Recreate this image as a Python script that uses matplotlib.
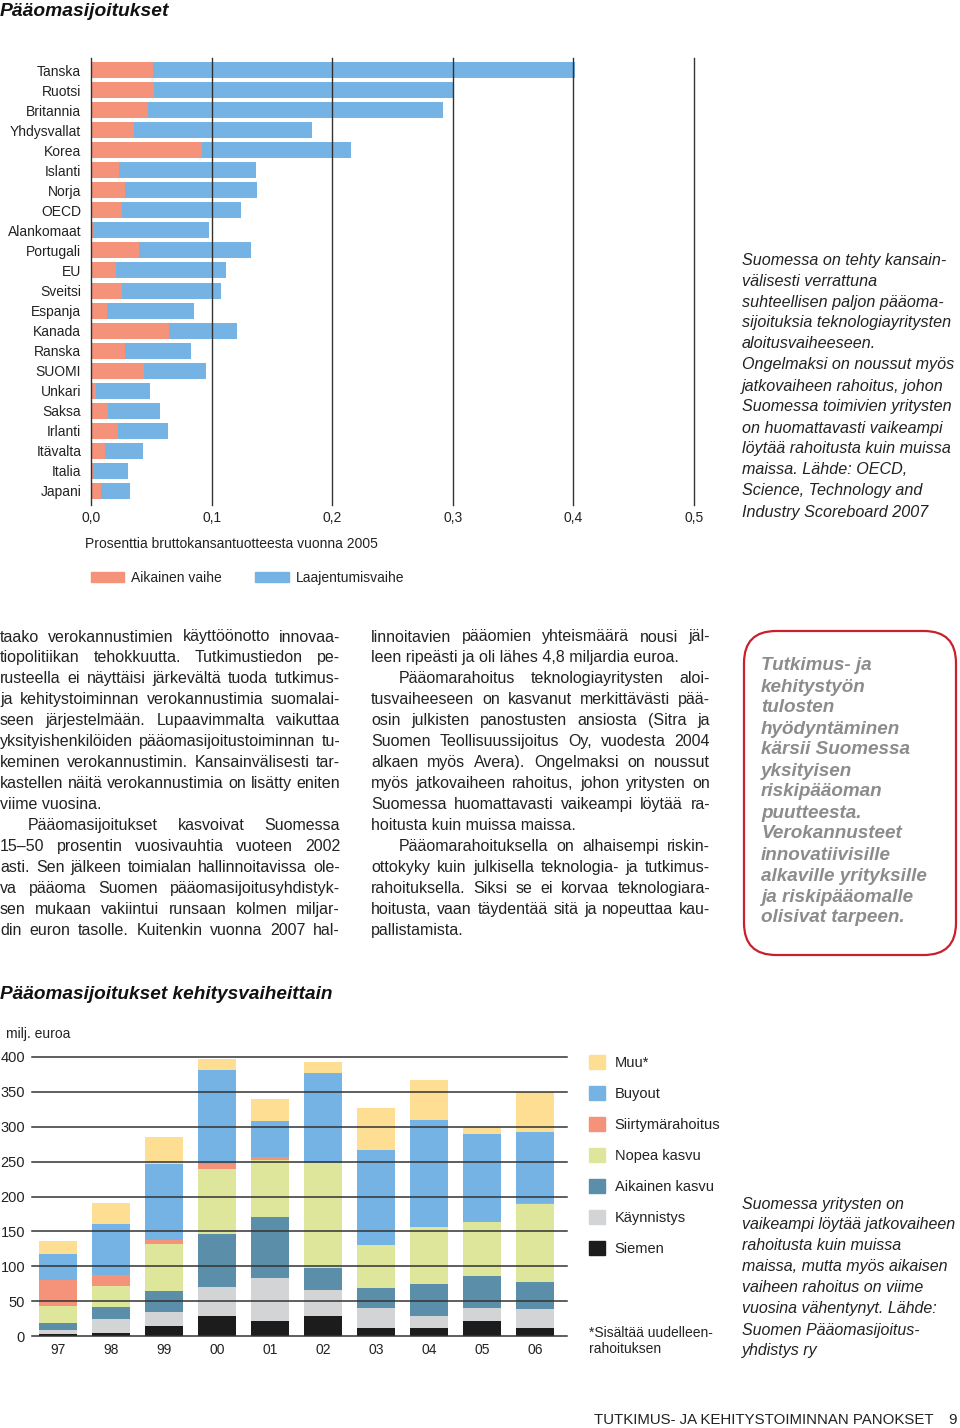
import matplotlib
matplotlib.use('Agg')
import matplotlib.pyplot as plt
from matplotlib.patches import FancyBboxPatch, Patch
import numpy as np

plt.rcParams['font.family'] = ['Liberation Sans', 'DejaVu Sans']

W, H = 960, 1428

# ---------------- data: top chart ----------------
countries = ["Tanska", "Ruotsi", "Britannia", "Yhdysvallat", "Korea", "Islanti", "Norja",
             "OECD", "Alankomaat", "Portugali", "EU", "Sveitsi", "Espanja", "Kanada",
             "Ranska", "SUOMI", "Unkari", "Saksa", "Irlanti", "Itävalta", "Italia", "Japani"]
early_stage = [0.051, 0.052, 0.047, 0.036, 0.092, 0.023, 0.028, 0.026, 0.002, 0.040, 0.021,
               0.026, 0.013, 0.065, 0.028, 0.044, 0.004, 0.014, 0.022, 0.012, 0.002, 0.008]
expansion_stage = [0.350, 0.248, 0.245, 0.147, 0.124, 0.114, 0.110, 0.098, 0.096, 0.093, 0.091,
                   0.082, 0.072, 0.056, 0.055, 0.051, 0.045, 0.043, 0.042, 0.031, 0.029, 0.024]
top_ticks = [0.0, 0.1, 0.2, 0.3, 0.4, 0.5]
top_tick_labels = ["0,0", "0,1", "0,2", "0,3", "0,4", "0,5"]

# ---------------- data: bottom chart ----------------
years = ["97", "98", "99", "00", "01", "02", "03", "04", "05", "06"]
siemen = [3, 4, 15, 28, 22, 29, 11, 12, 22, 12]
kaynnistys = [5, 21, 19, 42, 61, 37, 28.5, 16, 17.5, 26]
aikainen_kasvu = [11, 17, 31, 76, 88, 32, 29.5, 47, 46.5, 40]
nopea_kasvu = [24, 30, 67, 93, 81, 150, 61, 81, 77, 111.5]
siirtymarahoitus = [38, 15, 6, 8, 4, 0.3, 1, 0.5, 1, 1]
buyout = [37, 73, 108, 135, 52, 129, 136, 153, 125, 102]
muu = [18, 31, 39, 15, 32, 15, 60, 57, 10, 58]
bottom_ticks = [0, 50, 100, 150, 200, 250, 300, 350, 400]

ORANGE = '#F4937A'
BLUE = '#74B3E3'
C_MUU = '#FDDE93'
C_SIIRT = '#F4937A'
C_NOPEA = '#DEE69B'
C_AIK = '#5B8EA9'
C_KAYN = '#D3D4D6'
C_SIEM = '#1D1C1C'
GRID = '#333333'
TXT = '#222222'

fig = plt.figure(figsize=(W / 100, H / 100), dpi=100)
renderer = fig.canvas.get_renderer()


def add_ax(x0, y0, x1, y1):
    return fig.add_axes([x0 / W, 1 - y1 / H, (x1 - x0) / W, (y1 - y0) / H])


def T(x, y, s, **kw):
    kw.setdefault('va', 'center')
    kw.setdefault('ha', 'left')
    kw.setdefault('color', TXT)
    return fig.text(x / W, 1 - y / H, s, **kw)


# ---------------- titles ----------------
T(0, 16, "Pääomasijoitukset", fontsize=13.9, fontweight='bold', style='italic',
  color='#111111', va='baseline')
T(0, 999, "Pääomasijoitukset kehitysvaiheittain", fontsize=13.7, fontweight='bold',
  style='italic', color='#111111', va='baseline')

# ---------------- top chart ----------------
ax1 = add_ax(91, 58, 694, 505)
n = len(countries)
ypos = np.arange(n)
ax1.barh(ypos, early_stage, height=0.8, color=ORANGE, zorder=2)
ax1.barh(ypos, expansion_stage, left=early_stage, height=0.8, color=BLUE, zorder=2)
ax1.set_xlim(0, 0.5)
ax1.set_ylim(21.7, -0.6)
for t in top_ticks:
    ax1.axvline(t, color=GRID, lw=1.0, zorder=3, clip_on=False)
for s in ax1.spines.values():
    s.set_visible(False)
ax1.set_yticks(ypos)
ax1.set_yticklabels(countries, fontsize=10, color=TXT)
ax1.set_xticks(top_ticks)
ax1.set_xticklabels(top_tick_labels, fontsize=10, color=TXT)
ax1.tick_params(axis='y', length=0, pad=7)
ax1.tick_params(axis='x', length=0, pad=4)
ax1.set_facecolor('none')

T(85, 544, "Prosenttia bruttokansantuotteesta vuonna 2005", fontsize=10)

leg1 = fig.legend(handles=[Patch(color=ORANGE), Patch(color=BLUE)],
                  labels=["Aikainen vaihe", "Laajentumisvaihe"],
                  loc='center left', bbox_to_anchor=(91 / W, 1 - 578 / H), ncol=2,
                  frameon=False, fontsize=10, handlelength=2.4, handleheight=0.8,
                  handletextpad=0.5, columnspacing=2.4, borderpad=0, borderaxespad=0)
for t in leg1.get_texts():
    t.set_color(TXT)

top_right_lines = [
    "Suomessa on tehty kansain-",
    "välisesti verrattuna",
    "suhteellisen paljon pääoma-",
    "sijoituksia teknologiayritysten",
    "aloitusvaiheeseen.",
    "Ongelmaksi on noussut myös",
    "jatkovaiheen rahoitus, johon",
    "Suomessa toimivien yritysten",
    "on huomattavasti vaikeampi",
    "löytää rahoitusta kuin muissa",
    "maissa. Lähde: OECD,",
    "Science, Technology and",
    "Industry Scoreboard 2007",
]
for i, line in enumerate(top_right_lines):
    T(742, 260 + 21 * i, line, fontsize=11.6, style='italic')

# ---------------- body text (justified) ----------------
BODY_FS = 11.5


def word_width(w, **kw):
    t = fig.text(0, 0, w, **kw)
    wd = t.get_window_extent(renderer).width
    t.remove()
    return wd


def justified(x0, width, y, line, last=False, indent=0):
    kw = dict(fontsize=BODY_FS)
    words = line.split()
    if last or len(words) == 1:
        T(x0 + indent, y, line, **kw)
        return
    widths = [word_width(w, **kw) for w in words]
    gap = (width - indent - sum(widths)) / (len(words) - 1)
    x = x0 + indent
    for w, wd in zip(words, widths):
        T(x, y, w, **kw)
        x += wd + gap


col1 = [
    ("taako verokannustimien käyttöönotto innovaa-", 0, False),
    ("tiopolitiikan tehokkuutta. Tutkimustiedon pe-", 0, False),
    ("rusteella ei näyttäisi järkevältä tuoda tutkimus-", 0, False),
    ("ja kehitystoiminnan verokannustimia suomalai-", 0, False),
    ("seen järjestelmään. Lupaavimmalta vaikuttaa", 0, False),
    ("yksityishenkilöiden pääomasijoitustoiminnan tu-", 0, False),
    ("keminen verokannustimin. Kansainvälisesti tar-", 0, False),
    ("kastellen näitä verokannustimia on lisätty eniten", 0, False),
    ("viime vuosina.", 0, True),
    ("Pääomasijoitukset kasvoivat Suomessa", 28, False),
    ("15–50 prosentin vuosivauhtia vuoteen 2002", 0, False),
    ("asti. Sen jälkeen toimialan hallinnoitavissa ole-", 0, False),
    ("va pääoma Suomen pääomasijoitusyhdistyk-", 0, False),
    ("sen mukaan vakiintui runsaan kolmen miljar-", 0, False),
    ("din euron tasolle. Kuitenkin vuonna 2007 hal-", 0, False),
]
col2 = [
    ("linnoitavien pääomien yhteismäärä nousi jäl-", 0, False),
    ("leen ripeästi ja oli lähes 4,8 miljardia euroa.", 0, True),
    ("Pääomarahoitus teknologiayritysten aloi-", 28, False),
    ("tusvaiheeseen on kasvanut merkittävästi pää-", 0, False),
    ("osin julkisten panostusten ansiosta (Sitra ja", 0, False),
    ("Suomen Teollisuussijoitus Oy, vuodesta 2004", 0, False),
    ("alkaen myös Avera). Ongelmaksi on noussut", 0, False),
    ("myös jatkovaiheen rahoitus, johon yritysten on", 0, False),
    ("Suomessa huomattavasti vaikeampi löytää ra-", 0, False),
    ("hoitusta kuin muissa maissa.", 0, True),
    ("Pääomarahoituksella on alhaisempi riskin-", 28, False),
    ("ottokyky kuin julkisella teknologia- ja tutkimus-", 0, False),
    ("rahoituksella. Siksi se ei korvaa teknologiara-", 0, False),
    ("hoitusta, vaan täydentää sitä ja nopeuttaa kau-", 0, False),
    ("pallistamista.", 0, True),
]
for i, (line, ind, last) in enumerate(col1):
    justified(0, 340, 637 + 20.93 * i, line, last=last, indent=ind)
for i, (line, ind, last) in enumerate(col2):
    justified(371, 339, 637 + 20.93 * i, line, last=last, indent=ind)

# ---------------- red box ----------------
box = FancyBboxPatch((744 / 100, (H - 955) / 100), 2.12, 3.24,
                     boxstyle="round,pad=0,rounding_size=0.32",
                     transform=fig.dpi_scale_trans, facecolor='none',
                     edgecolor='#C9202E', lw=1.6)
fig.patches.append(box)
box_lines = [
    "Tutkimus- ja",
    "kehitystyön",
    "tulosten",
    "hyödyntäminen",
    "kärsii Suomessa",
    "yksityisen",
    "riskipääoman",
    "puutteesta.",
    "Verokannusteet",
    "innovatiivisille",
    "alkaville yrityksille",
    "ja riskipääomalle",
    "olisivat tarpeen.",
]
for i, line in enumerate(box_lines):
    T(761, 666 + 21 * i, line, fontsize=13.6, fontweight='bold', style='italic',
      color='#8C8C8C')

# ---------------- bottom chart ----------------
T(6, 1034, "milj. euroa", fontsize=10)
ax2 = add_ax(32, 1057, 567, 1336)
x = np.arange(len(years))
series = [
    (siemen, C_SIEM, "Siemen"),
    (kaynnistys, C_KAYN, "Käynnistys"),
    (aikainen_kasvu, C_AIK, "Aikainen kasvu"),
    (nopea_kasvu, C_NOPEA, "Nopea kasvu"),
    (siirtymarahoitus, C_SIIRT, "Siirtymärahoitus"),
    (buyout, BLUE, "Buyout"),
    (muu, C_MUU, "Muu*"),
]
bottom = np.zeros(len(years))
handles = []
for vals, col, lab in series:
    ax2.bar(x, vals, bottom=bottom, width=0.72, color=col, zorder=2, linewidth=0)
    bottom = bottom + np.array(vals, dtype=float)
    handles.append((Patch(color=col), lab))
ax2.set_xlim(-0.49, 9.6)
ax2.set_ylim(0, 400)
for v in bottom_ticks:
    ax2.axhline(v, color=GRID, lw=1.1, zorder=3, clip_on=False)
for s in ax2.spines.values():
    s.set_visible(False)
ax2.set_yticks(bottom_ticks)
ax2.set_yticklabels([str(v) for v in bottom_ticks], fontsize=10.5, color=TXT)
ax2.set_xticks(x)
ax2.set_xticklabels(years, fontsize=10, color=TXT)
ax2.tick_params(axis='y', length=0, pad=5)
ax2.tick_params(axis='x', length=0, pad=5)
ax2.set_facecolor('none')

handles = handles[::-1]
leg2 = fig.legend(handles=[h for h, _ in handles], labels=[l for _, l in handles],
                  loc='upper left', bbox_to_anchor=(589 / W, 1 - 1055 / H),
                  frameon=False, fontsize=10.5, handlelength=1.1, handleheight=1.1,
                  handletextpad=0.65, labelspacing=1.1, borderpad=0, borderaxespad=0)
for t in leg2.get_texts():
    t.set_color(TXT)

T(589, 1333, "*Sisältää uudelleen-", fontsize=10)
T(589, 1349, "rahoituksen", fontsize=10)

bottom_right_lines = [
    "Suomessa yritysten on",
    "vaikeampi löytää jatkovaiheen",
    "rahoitusta kuin muissa",
    "maissa, mutta myös aikaisen",
    "vaiheen rahoitus on viime",
    "vuosina vähentynyt. Lähde:",
    "Suomen Pääomasijoitus-",
    "yhdistys ry",
]
for i, line in enumerate(bottom_right_lines):
    T(742, 1204 + 21 * i, line, fontsize=11.5, style='italic')

# ---------------- footer ----------------
T(934, 1420, "TUTKIMUS- JA KEHITYSTOIMINNAN PANOKSET", fontsize=10.8, ha='right')
T(957, 1420, "9", fontsize=10.8, ha='right')

fig.savefig('out.png', dpi=100)
